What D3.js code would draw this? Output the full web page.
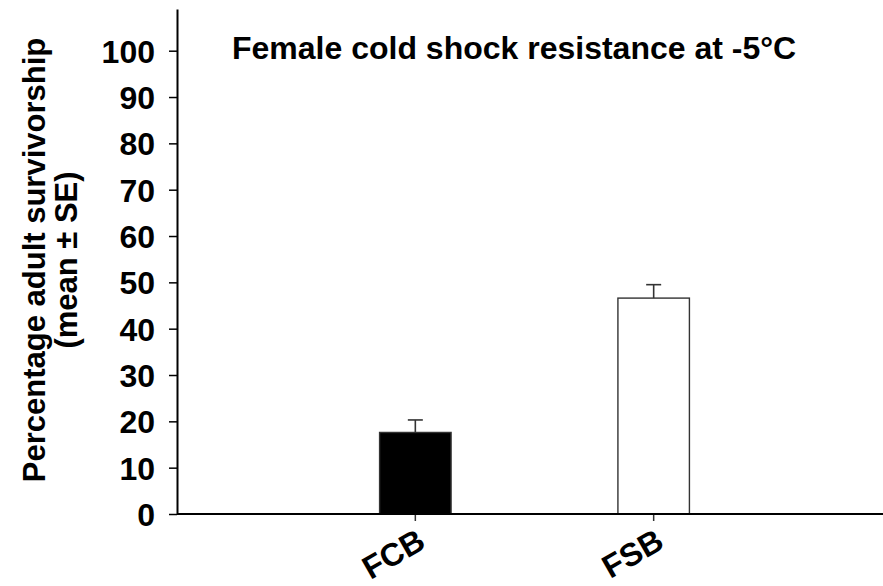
<!DOCTYPE html>
<head>
  <meta charset="utf-8">
  <script src="https://d3js.org/d3.v7.min.js"></script>
  <style>
    body { margin:0; background:#fff; }
    text { font-family: Arial, "Liberation Sans", sans-serif; font-weight: bold; fill:#000; }
  </style>
</head>
<body>
  <div class="bar-chart"></div>
  <script>
    // data
    const categories = ['FCB', 'FSB'];
    const means = [17.6, 46.6];
    const errors = [2.7, 2.9];
    const yTicks = [0, 10, 20, 30, 40, 50, 60, 70, 80, 90, 100];
    const barFills = ['#000000', '#ffffff'];
    const title = 'Female cold shock resistance at -5°C';
    const yLabel = ['Percentage adult survivorship', '(mean ± SE)'];

    const width = 883, height = 586;
    const margin = { top: 9, right: 0, bottom: 72, left: 177 };
    const innerW = width - margin.left - margin.right;
    const innerH = height - margin.top - margin.bottom;

    const svg = d3.select('.bar-chart')
      .append('svg')
        .attr('width', width)
        .attr('height', height);

    const g = svg.append('g')
      .attr('transform', `translate(${margin.left},${margin.top})`);

    const data = categories.map((c, i) => ({ cat: c, mean: means[i], se: errors[i], fill: barFills[i] }));

    // three equal steps across, bars sit on the 1/3 and 2/3 marks
    const xScale = d3.scaleBand()
      .domain(categories)
      .range([0, 715])
      .paddingInner(0.7)
      .paddingOuter(0.85);

    const yScale = d3.scaleLinear()
      .domain([0, 109])
      .range([innerH, 0]);

    // bars
    g.selectAll('.bar')
      .data(data)
      .enter()
      .append('rect')
        .attr('class', 'bar')
        .attr('x', d => xScale(d.cat))
        .attr('y', d => yScale(d.mean))
        .attr('width', xScale.bandwidth())
        .attr('height', d => yScale(0) - yScale(d.mean))
        .style('fill', d => d.fill)
        .style('stroke', '#333')
        .style('stroke-width', 1.4);

    // error bars (upper only)
    const eb = g.selectAll('.err')
      .data(data)
      .enter()
      .append('g')
        .attr('class', 'err')
        .style('stroke', '#333')
        .style('stroke-width', 1.6);

    eb.append('line')
      .attr('x1', d => xScale(d.cat) + xScale.bandwidth() / 2)
      .attr('x2', d => xScale(d.cat) + xScale.bandwidth() / 2)
      .attr('y1', d => yScale(d.mean))
      .attr('y2', d => yScale(d.mean + d.se));

    eb.append('line')
      .attr('x1', d => xScale(d.cat) + xScale.bandwidth() / 2 - 7.5)
      .attr('x2', d => xScale(d.cat) + xScale.bandwidth() / 2 + 7.5)
      .attr('y1', d => yScale(d.mean + d.se))
      .attr('y2', d => yScale(d.mean + d.se));

    // y axis
    const yAxis = g.append('g')
      .call(d3.axisLeft(yScale).tickValues(yTicks).tickSize(8).tickPadding(14).tickSizeOuter(0));
    yAxis.select('.domain').style('stroke', '#000').style('stroke-width', 2);
    yAxis.selectAll('.tick line').style('stroke', '#000').style('stroke-width', 1.5);
    yAxis.selectAll('.tick text')
      .style('font-size', '32px')
      .style('font-family', 'Arial, "Liberation Sans", sans-serif')
      .style('font-weight', 'bold')
      .attr('dy', '0.36em');

    // x axis
    const xAxis = g.append('g')
      .attr('transform', `translate(0,${innerH})`)
      .call(d3.axisBottom(xScale).tickSize(7).tickSizeOuter(0));
    xAxis.select('.domain').remove();
    xAxis.append('line')
      .attr('x1', 0).attr('x2', innerW)
      .style('stroke', '#000').style('stroke-width', 2);
    xAxis.selectAll('.tick line').style('stroke', '#333').style('stroke-width', 1.5);
    xAxis.selectAll('.tick text')
      .style('font-size', '32px')
      .style('font-family', 'Arial, "Liberation Sans", sans-serif')
      .style('font-weight', 'bold')
      .style('text-anchor', 'end')
      .attr('y', 0)
      .attr('dy', 0)
      .attr('transform', 'translate(12,33) rotate(-30)');

    // title
    g.append('text')
      .attr('x', 232 - margin.left)
      .attr('y', 59 - margin.top)
      .style('font-size', '32px')
      .text(title);

    // y axis label, two lines
    svg.append('text')
      .attr('transform', 'translate(45,260) rotate(-90)')
      .style('text-anchor', 'middle')
      .style('font-size', '31px')
      .selectAll('tspan')
      .data(yLabel)
      .enter()
      .append('tspan')
        .attr('x', 0)
        .attr('dy', (d, i) => i === 0 ? 0 : '1.02em')
        .text(d => d);
  </script>
</body>
</html>
